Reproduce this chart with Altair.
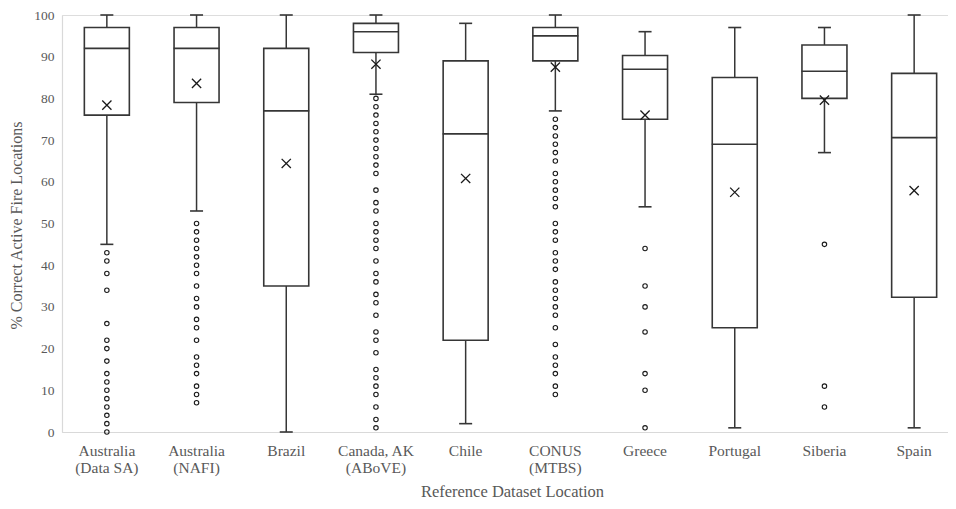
import altair as alt
import pandas as pd

categories = ["Australia (Data SA)", "Australia (NAFI)", "Brazil", "Canada, AK (ABoVE)", "Chile",
              "CONUS (MTBS)", "Greece", "Portugal", "Siberia", "Spain"]
whisker_low = [45, 53, 0, 81, 2, 77, 54, 1, 67, 1]
q1 = [76, 79, 35, 91, 22, 89, 75, 25, 80, 32.3]
median = [92, 92, 77, 96, 71.5, 95, 87, 69, 86.5, 70.6]
q3 = [97, 97, 92, 98, 89, 97, 90.3, 85, 92.8, 86]
whisker_high = [100, 100, 100, 100, 98, 100, 96, 97, 97, 100]
mean = [78.4, 83.6, 64.4, 88.2, 60.8, 87.5, 76.0, 57.5, 79.6, 57.9]

outliers_australia_datasa = [43, 41, 38, 34, 26, 22, 20, 17, 14, 12, 10, 8, 6, 4, 2, 0]
outliers_australia_nafi = [50, 48, 46, 44, 42, 40, 38, 35, 32, 30, 27, 25, 22, 18, 16, 14, 11, 9, 7]
outliers_brazil = []
outliers_canada = [80, 78, 76, 74, 72, 70, 68, 66, 64, 62, 58, 55, 53, 50, 48, 46, 44, 41, 38, 36,
                   33, 31, 28, 24, 22, 19, 15, 13, 11, 9, 6, 3, 1]
outliers_chile = []
outliers_conus = [75, 73, 71, 69, 67, 65, 62, 60, 58, 56, 54, 50, 48, 46, 43, 41, 39, 36, 34, 32,
                  30, 28, 25, 21, 18, 16, 14, 11, 9]
outliers_greece = [44, 35, 30, 24, 14, 10, 1]
outliers_portugal = []
outliers_siberia = [45, 11, 6]
outliers_spain = []

outlier_lists = [outliers_australia_datasa, outliers_australia_nafi, outliers_brazil, outliers_canada,
                 outliers_chile, outliers_conus, outliers_greece, outliers_portugal, outliers_siberia,
                 outliers_spain]

stats = pd.DataFrame({
    "cat": categories, "lo": whisker_low, "q1": q1, "med": median,
    "q3": q3, "hi": whisker_high, "mean": mean,
})
out_df = pd.DataFrame([{"cat": c, "v": v} for c, lst in zip(categories, outlier_lists) for v in lst])

FONT = "'Liberation Serif', 'Times New Roman', serif"
LINE = "#363636"
TXT = "#595959"

label_expr = ("indexof(datum.label, '(') > 0 ? "
              "[substring(datum.label, 0, indexof(datum.label, '(') - 1), "
              "substring(datum.label, indexof(datum.label, '('))] : datum.label")

x_enc = alt.X(
    "cat:N",
    scale=alt.Scale(domain=categories, range=[0, 897], paddingInner=0, paddingOuter=0),
    axis=alt.Axis(
        title="Reference Dataset Location", labelAngle=0, labelExpr=label_expr,
        labelFont=FONT, labelFontSize=15.5, labelColor=TXT, labelLineHeight=17,
        labelPadding=11, ticks=False, domainColor="#d9d9d9", domainWidth=1.2,
        titleFont=FONT, titleFontSize=16.5, titleFontWeight="normal", titleColor=TXT,
        titleX=450, titleY=64, titleBaseline="alphabetic", titleAlign="center",
    ),
)
y_scale = alt.Scale(domain=[0, 100], nice=False)
y_axis = alt.Axis(
    title="% Correct Active Fire Locations", values=list(range(0, 101, 10)), grid=False,
    ticks=False, domainColor="#d9d9d9", domainWidth=1.2,
    labelFont=FONT, labelFontSize=13.5, labelColor=TXT, labelPadding=8,
    titleFont=FONT, titleFontSize=16, titleFontWeight="normal", titleColor=TXT,
    titleAngle=270, titleX=-46, titleY=210, titleAlign="center", titleBaseline="middle",
)

base = alt.Chart(stats).encode(x=x_enc)

whisk_low = base.mark_rule(color=LINE, strokeWidth=1.5).encode(
    y=alt.Y("lo:Q", scale=y_scale, axis=y_axis), y2="q1:Q")
whisk_high = base.mark_rule(color=LINE, strokeWidth=1.5).encode(
    y=alt.Y("q3:Q", scale=y_scale), y2="hi:Q")
cap_low = base.mark_tick(color=LINE, size=13, thickness=1.6, opacity=1).encode(y=alt.Y("lo:Q", scale=y_scale))
cap_high = base.mark_tick(color=LINE, size=13, thickness=1.6, opacity=1).encode(y=alt.Y("hi:Q", scale=y_scale))
box = base.mark_bar(size=45, fill="white", stroke=LINE, strokeWidth=1.6).encode(
    y=alt.Y("q1:Q", scale=y_scale), y2="q3:Q")
med = base.mark_tick(color=LINE, size=46, thickness=1.6, opacity=1).encode(y=alt.Y("med:Q", scale=y_scale))
mean_pt = base.mark_point(
    shape="M-1,-1L1,1M1,-1L-1,1", size=85, filled=False, stroke="#1a1a1a", strokeWidth=1.3, opacity=1
).encode(y=alt.Y("mean:Q", scale=y_scale))

outl = alt.Chart(out_df).mark_point(
    shape="circle", size=20, filled=False, stroke="#1a1a1a", strokeWidth=1.1, opacity=1
).encode(x=x_enc, y=alt.Y("v:Q", scale=y_scale))

chart = alt.layer(whisk_low, whisk_high, cap_low, cap_high, box, med, mean_pt, outl).properties(
    width=886, height=417,
    autosize=alt.AutoSizeParams(type="none"),
    padding={"left": 54, "top": 7, "right": 0, "bottom": 69},
).configure_view(stroke=None).configure(background="white")

chart.save("out.html", embed_options={"renderer": "svg", "actions": False})
